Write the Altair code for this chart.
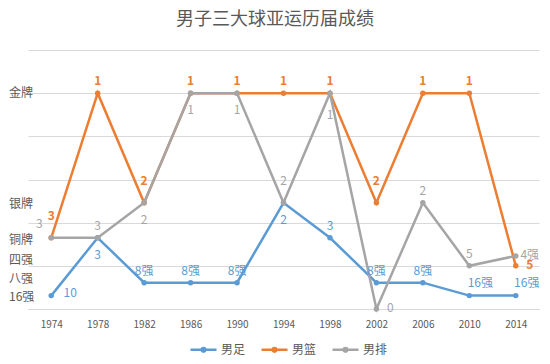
import altair as alt
import pandas as pd

FONT = "Noto Sans CJK SC"
TEXT_COLOR = "#595959"
GRID_COLOR = "#D9D9D9"

years = [1974, 1978, 1982, 1986, 1990, 1994, 1998, 2002, 2006, 2010, 2014]
series_names = ["男足", "男篮", "男排"]
series_colors = ["#5B9BD5", "#ED7D31", "#A5A5A5"]
chart_title = "男子三大球亚运历届成绩"

football_values = [0.31, 1.65, 0.61, 0.61, 0.61, 2.46, 1.65, 0.61, 0.61, 0.31, 0.31]
football_labels = ["10", "3", "8强", "8强", "8强", "2", "3", "8强", "8强", "16强", "16强"]
basketball_values = [1.65, 5, 2.46, 5, 5, 5, 5, 2.46, 5, 5, 1.0]
basketball_labels = ["3", "1", "2", "1", "1", "1", "1", "2", "1", "1", "5"]
volleyball_values = [1.65, 1.65, 2.46, 5, 5, 2.46, 5, 0, 2.46, 1.0, 1.23]
volleyball_labels = ["3", "3", "2", "1", "1", "2", "1", "0", "2", "5", "4强"]

# label placement codes (style), one per point
football_label_pos = ["r2", "b", "t", "t", "t", "b", "t", "t", "t", "tr", "tr"]
basketball_label_pos = ["T", "t", "T", "t", "t", "t", "t", "T", "t", "t", "r"]
volleyball_label_pos = ["tl", "t", "b", "b", "b", "T", "B", "r", "t", "t", "r"]

tier_names = ["金牌", "银牌", "铜牌", "四强", "八强", "16强"]
tier_values = [5.0, 2.44, 1.60, 1.14, 0.70, 0.28]

offsets = {
    "t": (0, -12), "T": (0, -22), "tl": (-12, -14), "tr": (11, -13),
    "b": (0, 17), "B": (0, 22), "r": (14, -1), "r2": (19, -3),
}

rows = []
for s, vals, labs, poss in zip(
    series_names,
    [football_values, basketball_values, volleyball_values],
    [football_labels, basketball_labels, volleyball_labels],
    [football_label_pos, basketball_label_pos, volleyball_label_pos],
):
    for yr, v, lab, p in zip(years, vals, labs, poss):
        rows.append({"year": yr, "series": s, "value": v, "label": lab, "pos": p})
df = pd.DataFrame(rows)
tier_df = pd.DataFrame({"name": tier_names, "value": tier_values})
title_df = pd.DataFrame({"title": [chart_title]})

x_enc = alt.X(
    "year:O",
    axis=alt.Axis(title=None, labelAngle=0, ticks=False, tickSize=0, labelPadding=10,
                  labelColor=TEXT_COLOR, labelFontSize=10, labelFont=FONT,
                  domainColor=GRID_COLOR, grid=False),
)
y_enc = alt.Y(
    "value:Q",
    scale=alt.Scale(domain=[0, 6], nice=False, zero=True),
    axis=alt.Axis(title=None, values=[0, 1, 2, 3, 4, 5, 6], labels=False, ticks=False,
                  domain=False, grid=True, gridColor=GRID_COLOR, gridWidth=1),
)

legend_symbol = "M-1,0H1M-0.14,0a0.14,0.14 0 1,0 0.28,0a0.14,0.14 0 1,0 -0.28,0"
color_enc = alt.Color(
    "series:N",
    scale=alt.Scale(domain=series_names, range=series_colors),
    legend=alt.Legend(title=None, orient="none", legendX=161, legendY=285,
                      direction="horizontal", symbolType=legend_symbol, symbolSize=676,
                      symbolStrokeWidth=2.5, labelFontSize=12, labelColor=TEXT_COLOR,
                      labelFont=FONT, columnPadding=10, labelOffset=3, padding=0),
)

layers = []
for s in series_names:
    layers.append(
        alt.Chart(df).transform_filter(alt.datum.series == s)
        .mark_line(strokeWidth=2.5, point=alt.OverlayMarkDef(filled=True, size=30, opacity=1))
        .encode(x=x_enc, y=y_enc, color=color_enc)
    )

for s, c in zip(series_names, series_colors):
    weight = "bold" if s == "男篮" else "normal"
    for code, (dx, dy) in offsets.items():
        layers.append(
            alt.Chart(df)
            .transform_filter((alt.datum.series == s) & (alt.datum.pos == code))
            .mark_text(dx=dx, dy=dy, color=c, fontSize=12, font=FONT, fontWeight=weight,
                       align="center", baseline="middle")
            .encode(x=x_enc, y=y_enc, text="label:N")
        )

layers.append(
    alt.Chart(tier_df)
    .mark_text(align="left", baseline="middle", fontSize=12, color=TEXT_COLOR, font=FONT)
    .encode(x=alt.value(-19), y=y_enc, text="name:N")
)

layers.append(
    alt.Chart(title_df)
    .mark_text(align="center", baseline="middle", fontSize=18, color=TEXT_COLOR, font=FONT)
    .encode(x=alt.value(247), y=alt.value(-30), text="title:N")
)

chart = (
    alt.layer(*layers)
    .properties(
        width=511, height=259,
        autosize=alt.AutoSizeParams(type="none"),
        padding={"left": 20, "top": 42, "right": 3, "bottom": 47},
    )
    .configure_view(stroke=None)
)

chart.save("out.html", embed_options={"renderer": "svg", "actions": False})
